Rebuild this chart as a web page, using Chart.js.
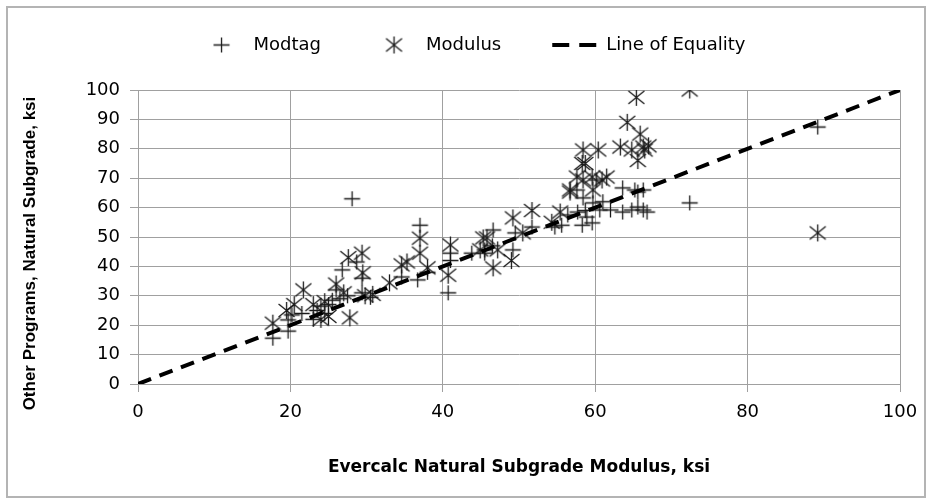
<!DOCTYPE html>
<html>
<head>
<meta charset="utf-8">
<script src="https://cdn.jsdelivr.net/npm/chart.js@4.4.1/dist/chart.umd.min.js"></script>
<style>
  html, body { margin: 0; padding: 0; background: #fff; }
  #wrap { position: relative; width: 931px; height: 503px; }
  #frame { position: absolute; left: 6px; top: 6px; width: 916px; height: 488px; border: 2px solid #b4b4b4; pointer-events: none; }
  canvas { position: absolute; left: 0; top: 0; }
</style>
</head>
<body>
<div id="wrap">
  <canvas id="chart" width="931" height="503"></canvas>
  <div id="frame"></div>
</div>
<script>
// values (ksi)
const modtagX = [17.7, 19.7, 19.7, 20.2, 21.5, 23, 23.5, 24, 24.5, 25, 25.5, 26, 26.5, 26.8, 27.5, 28.1, 28.7, 29.4, 29.4, 30.5,
  34.6, 36.7, 37, 38, 40.7, 41, 41, 43.8, 45.5, 45.5, 46.5, 46.6, 49.2, 49.5, 51.7, 54.7, 55.6, 56.4, 57.6, 57.7,
  58.3, 58.4, 58.7, 58.9, 59.6, 59.7, 60.2, 60.6, 61, 62, 63.6, 63.6, 64.8, 65.2, 65.6, 65.6, 66.3, 66.3, 66.8, 72.4, 89.2];
const modtagY = [15.6, 18, 21.8, 23.5, 24, 22, 25, 26.5, 24, 27, 28.5, 32, 29, 38.8, 30, 63, 41.5, 36, 31, 29.5,
  36.4, 35.4, 54, 38, 31, 42, 44.5, 44.5, 44.5, 45.6, 47, 52.4, 45.6, 51.4, 53.4, 53.4, 54, 57.5, 66, 58.5,
  54, 63.3, 59, 56.8, 54.8, 61.6, 69.4, 59.2, 62, 59.2, 66.7, 58.5, 59.2, 66, 65.3, 60.2, 66, 59.2, 58.5, 61.6, 87.4];

const modulusX = [17.7, 19.5, 20.5, 21.7, 23, 24, 24.5, 25, 26, 27, 27.6, 27.8, 29.4, 29.5, 29.8, 30.8, 33, 34.6, 35.3, 37,
  37, 38, 40.7, 41, 44.9, 45.3, 45.8, 46.6, 47.2, 49, 49.2, 50.5, 51.7, 54.3, 55.4, 56.7, 56.7, 57.6, 58.3, 58.4,
  58.4, 58.7, 59.6, 59.7, 60.4, 60.9, 61.5, 63.3, 64.2, 64.8, 65.4, 65.6, 65.9, 66.3, 66.5, 67, 72.4, 89.2];
const modulusY = [20.7, 25, 27, 32, 27, 22, 28, 23, 34, 31, 43, 22.5, 44.5, 37.8, 30, 30.5, 34.4, 40.5, 41.5, 49.6,
  44.5, 39.5, 37, 47.3, 45.6, 49.7, 49.7, 39.5, 45.6, 42, 56.5, 51.4, 59, 55, 58.5, 65.3, 66, 70.4, 75, 69.4,
  79.6, 75, 70.4, 66, 79.6, 69.4, 70.4, 80.6, 89, 79.6, 97.5, 76, 85, 80.6, 79.6, 81, 100, 51.4];

const equalityX = [0, 100];
const equalityY = [0, 100];

const xTicks = [0, 20, 40, 60, 80, 100];
const yTicks = [0, 10, 20, 30, 40, 50, 60, 70, 80, 90, 100];

const toPoints = (xs, ys) => xs.map((x, i) => ({ x: x, y: ys[i] }));

// marker images, so the legend draws them at their own size
function marker(w, h, lw, draw) {
  const c = document.createElement('canvas');
  c.width = w;
  c.height = h;
  const g = c.getContext('2d');
  g.strokeStyle = '#1a1a1a';
  g.lineWidth = lw;
  g.beginPath();
  draw(g);
  g.stroke();
  return c;
}
const plus = marker(19, 19, 1.3, g => {
  g.moveTo(1.5, 9.5); g.lineTo(17.5, 9.5);
  g.moveTo(9.5, 2); g.lineTo(9.5, 17);
});
const star = marker(19, 19, 1.3, g => {
  g.moveTo(1.5, 3); g.lineTo(17.5, 16);
  g.moveTo(17.5, 3); g.lineTo(1.5, 16);
  g.moveTo(9.5, 1); g.lineTo(9.5, 18);
});
const dashKey = marker(46, 6, 4, g => {
  g.strokeStyle = '#000';
  g.moveTo(1, 3); g.lineTo(18, 3);
  g.moveTo(28, 3); g.lineTo(45, 3);
});

const gridGray = '#a0a0a0';

// nudge the legend to where it sits in the original
const legendShift = {
  id: 'legendShift',
  afterLayout(chart) {
    chart.legend.left += 22;
    chart.legend.right += 22;
    chart.legend.top -= 26;
    chart.legend.bottom -= 26;
  }
};

new Chart(document.getElementById('chart'), {
  type: 'scatter',
  data: {
    datasets: [
      {
        label: 'Modtag',
        data: toPoints(modtagX, modtagY),
        pointStyle: plus,
        pointRadius: 9,
        pointHoverRadius: 9,
        borderColor: '#111',
        backgroundColor: '#111',
        order: 1
      },
      {
        label: 'Modulus',
        data: toPoints(modulusX, modulusY),
        pointStyle: star,
        pointRadius: 9,
        pointHoverRadius: 9,
        borderColor: '#222',
        backgroundColor: '#222',
        order: 2
      },
      {
        type: 'line',
        label: 'Line of Equality',
        data: toPoints(equalityX, equalityY),
        borderColor: '#000',
        backgroundColor: '#000',
        borderWidth: 4,
        borderDash: [14, 9],
        pointRadius: 0,
        pointHoverRadius: 0,
        pointStyle: dashKey,
        fill: false,
        order: 0
      }
    ]
  },
  options: {
    responsive: false,
    animation: false,
    layout: { padding: { left: 0, right: 31, top: 12, bottom: 0 } },
    plugins: {
      tooltip: { enabled: false },
      legend: {
        position: 'top',
        labels: {
          usePointStyle: true,
          pointStyleWidth: 46,
          padding: 50,
          color: '#000',
          font: { family: 'DejaVu Sans', size: 18 },
          sort: (a, b) => a.datasetIndex - b.datasetIndex
        }
      }
    },
    scales: {
      x: {
        type: 'linear',
        min: 0,
        max: 100,
        afterFit: (s) => { s.height = 119; },
        afterBuildTicks: (s) => { s.ticks = xTicks.map(v => ({ value: v })); },
        ticks: { color: '#000', padding: 10, font: { family: 'DejaVu Sans', size: 18 } },
        grid: { color: gridGray, lineWidth: 1, tickLength: 8 },
        border: { color: gridGray, width: 1 },
        title: {
          display: true,
          text: 'Evercalc Natural Subgrade Modulus, ksi',
          color: '#000',
          font: { family: 'DejaVu Sans', size: 17, weight: 'bold' },
          padding: { top: 0, bottom: 25 }
        }
      },
      y: {
        type: 'linear',
        min: 0,
        max: 100,
        afterFit: (s) => { s.width = 138; },
        afterBuildTicks: (s) => { s.ticks = yTicks.map(v => ({ value: v })); },
        ticks: { color: '#000', padding: 10, font: { family: 'DejaVu Sans', size: 18 } },
        grid: { color: gridGray, lineWidth: 1, tickLength: 8 },
        border: { color: gridGray, width: 1 },
        title: {
          display: true,
          // trailing spaces push the rotated title down a little, as in the original
          text: 'Other Programs, Natural Subgrade, ksi\u00a0\u00a0\u00a0\u00a0\u00a0\u00a0\u00a0',
          color: '#000',
          font: { family: 'Liberation Sans', size: 17, weight: 'bold' },
          padding: { top: 20, bottom: 0 }
        }
      }
    }
  },
  plugins: [legendShift]
});
</script>
</body>
</html>
